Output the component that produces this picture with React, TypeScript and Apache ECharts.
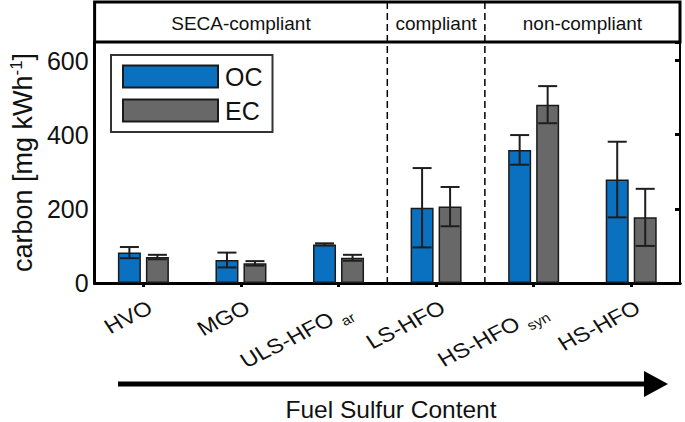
import React, { useEffect, useRef } from "react";
import * as echarts from "echarts";

const categories = ["HVO", "MGO", "ULS-HFO", "LS-HFO", "HS-HFO", "HS-HFO"];
const categorySubs = ["", "", "ar", "", "syn", ""];
const ocValues = [82, 62, 104, 203, 359, 279];
const ocErr = [15, 20, 3, 107, 40, 102];
const ecValues = [70, 53, 68, 206, 481, 177];
const ecErr = [6, 6, 8, 53, 50, 77];
const groupNames = ["SECA-compliant", "compliant", "non-compliant"];
const groupStart = [0, 3, 4];
const groupEnd = [2, 3, 5];
const yTicks = [0, 200, 400, 600];
const yMax = 650;

const FONT = "'Liberation Sans', Arial, Helvetica, sans-serif";
const BLUE = "#0a70c0";
const GRAY = "#686868";
const BAR_W = 23;
const BAR_GAP = 5;
const GRID = { left: 88, top: 42, right: 5, bottom: 139 };
const LABEL_ROT = 30;
const LABEL_STRETCH = 1.15;

function errSeries(vals: number[], errs: number[], offset: number) {
  return {
    type: "custom",
    silent: true,
    z: 10,
    data: vals.map((v, i) => [i, v - errs[i], v + errs[i]]),
    encode: { x: 0, y: [1, 2] },
    renderItem: (params: any, api: any) => {
      const idx = api.value(0);
      const lo = api.coord([idx, api.value(1)]);
      const hi = api.coord([idx, api.value(2)]);
      const x = lo[0] + offset;
      const cap = 9.5;
      const style = { stroke: "#1e1e1e", lineWidth: 2 };
      return {
        type: "group",
        children: [
          { type: "line", shape: { x1: x, y1: lo[1], x2: x, y2: hi[1] }, style },
          { type: "line", shape: { x1: x - cap, y1: lo[1], x2: x + cap, y2: lo[1] }, style },
          { type: "line", shape: { x1: x - cap, y1: hi[1], x2: x + cap, y2: hi[1] }, style },
        ],
      };
    },
  };
}

export default function App() {
  const ref = useRef<HTMLDivElement>(null);
  useEffect(() => {
    document.body.style.margin = "0";
    const chart = echarts.init(ref.current!, null, { renderer: "svg" });
    const off = (BAR_W + BAR_GAP) / 2;
    const option: any = {
      animation: false,
      textStyle: { fontFamily: FONT },
      grid: { ...GRID },
      legend: {
        orient: "vertical",
        left: 111,
        top: 55,
        padding: [9, 10, 9, 11],
        itemGap: 9,
        itemWidth: 95,
        itemHeight: 22,
        borderColor: "#333",
        borderWidth: 2,
        icon: "rect",
        textStyle: { fontSize: 25, color: "#111", fontFamily: FONT, padding: [0, 0, 0, 2] },
        data: ["OC", "EC"],
      },
      xAxis: [
        {
          type: "category",
          data: categories,
          boundaryGap: true,
          axisLine: { lineStyle: { color: "#000", width: 3 } },
          axisTick: { show: false },
          axisLabel: { show: false },
        },
        {
          type: "category",
          position: "top",
          data: categories,
          boundaryGap: true,
          axisLine: { lineStyle: { color: "#000", width: 3 } },
          axisTick: { show: true, inside: true, alignWithLabel: true, length: 4, lineStyle: { width: 3, color: "#000" } },
          axisLabel: { show: false },
        },
      ],
      yAxis: [
        {
          type: "value",
          min: 0,
          max: yMax,
          interval: 200,
          splitLine: { show: false },
          axisLine: { show: true, lineStyle: { color: "#000", width: 3 } },
          axisTick: { show: false },
          axisLabel: {
            fontSize: 25,
            color: "#111",
            margin: 6,
            fontFamily: FONT,
            showMaxLabel: false,
            formatter: (v: number) => (yTicks.includes(v) ? String(v) : ""),
          },
          name: "carbon [mg kWh{sup|-1}]",
          nameLocation: "middle",
          nameGap: 53,
          nameTextStyle: {
            fontSize: 27,
            color: "#111",
            fontFamily: FONT,
            rich: { sup: { fontSize: 17, verticalAlign: "top", padding: [0, 0, 12, 0], color: "#111", fontFamily: FONT } },
          },
        },
        {
          type: "value",
          position: "right",
          min: 0,
          max: yMax,
          interval: 200,
          splitLine: { show: false },
          axisLine: { show: true, lineStyle: { color: "#000", width: 2 } },
          axisTick: { show: true, inside: true, length: 5, lineStyle: { width: 3, color: "#000" } },
          axisLabel: { show: false },
        },
      ],
      series: [
        {
          name: "OC",
          type: "bar",
          data: ocValues,
          barWidth: BAR_W,
          barGap: `${(BAR_GAP / BAR_W) * 100}%`,
          itemStyle: { color: BLUE, borderColor: "#1a1a1a", borderWidth: 1.5 },
        },
        {
          name: "EC",
          type: "bar",
          data: ecValues,
          barWidth: BAR_W,
          itemStyle: { color: GRAY, borderColor: "#1a1a1a", borderWidth: 1.5 },
        },
        errSeries(ocValues, ocErr, -off),
        errSeries(ecValues, ecErr, off),
      ],
    };
    chart.setOption(option);

    const px = (i: number) => chart.convertToPixel({ xAxisIndex: 0 }, i) as number;
    const step = px(1) - px(0);
    const left = px(0) - step / 2;
    const yBottom = chart.convertToPixel({ yAxisIndex: 0 }, 0) as number;
    const headTop = 2;
    const graphics: any[] = [
      {
        type: "rect",
        shape: { x: left, y: headTop, width: 685 - GRID.right - left, height: GRID.top - headTop },
        style: { fill: "#fff", stroke: "#000", lineWidth: 3 },
        z: -1,
      },
    ];
    groupNames.forEach((g, k) => {
      const a = px(groupStart[k]) - step / 2;
      const b = px(groupEnd[k]) + step / 2;
      graphics.push({
        type: "text",
        x: (a + b) / 2,
        y: (headTop + GRID.top) / 2 + 1,
        style: { text: g, fontSize: 19, fontFamily: FONT, fill: "#111", align: "center", verticalAlign: "middle" },
      });
      if (k > 0) {
        graphics.push({
          type: "line",
          shape: { x1: a, y1: headTop, x2: a, y2: yBottom },
          style: { stroke: "#000", lineWidth: 1.5, lineDash: [7, 4] },
          z: 5,
        });
      }
    });
    categories.forEach((c, i) => {
      const sub = categorySubs[i];
      const text = sub ? `{m|${c}} {s|${sub}}` : `{m|${c}}`;
      graphics.push({
        type: "group",
        x: px(i) + (sub ? 12 : 7),
        y: yBottom + (sub ? 28 : 23),
        scaleX: LABEL_STRETCH,
        children: [
          {
            type: "text",
            x: 0,
            y: 0,
            rotation: (LABEL_ROT * Math.PI) / 180,
            style: {
              text,
              align: "right",
              verticalAlign: "middle",
              fill: "#111",
              fontFamily: FONT,
              rich: {
                m: { fontSize: 20.5, fontFamily: FONT, fill: "#111", padding: sub ? [0, 0, 5, 0] : 0 },
                s: { fontSize: 13.5, fontFamily: FONT, fill: "#111", verticalAlign: "bottom", padding: [0, 0, 0, 2] },
              },
            },
          },
        ],
      });
    });
    graphics.push(
      { type: "line", shape: { x1: 118, y1: 384, x2: 648, y2: 384 }, style: { stroke: "#000", lineWidth: 5 } },
      { type: "polygon", shape: { points: [[644, 371], [668, 384], [644, 397]] }, style: { fill: "#000" } },
      {
        type: "text",
        x: 391,
        y: 409,
        style: { text: "Fuel Sulfur Content", fontSize: 24.5, fontFamily: FONT, fill: "#111", align: "center", verticalAlign: "middle" },
      }
    );
    chart.setOption({ graphic: graphics });
    return () => chart.dispose();
  }, []);
  return <div ref={ref} style={{ width: 685, height: 422 }} />;
}
